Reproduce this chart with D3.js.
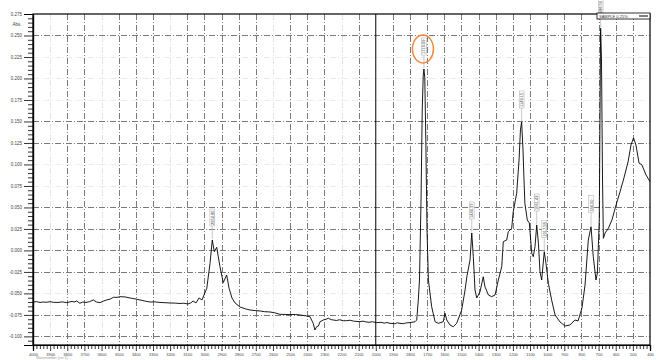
<!DOCTYPE html>
<html>
<head>
<meta charset="utf-8">
<script src="https://cdn.jsdelivr.net/npm/d3@7"></script>
<style>
body { margin: 0; background: #fff; }
svg { display: block; font-family: "Liberation Sans", Arial, sans-serif; }
</style>
</head>
<body>
<div id="ir-chart"></div>
<script>
// 光谱数据：波数 (cm-1) 与吸光度
var wavenumber = [4000, 3980, 3959, 3940, 3920, 3901, 3880, 3854, 3830, 3803, 3790, 3772, 3760, 3745, 3726, 3710, 3691, 3670, 3648, 3630,
    3609, 3590, 3570, 3550, 3531, 3510, 3492, 3463, 3434, 3405, 3376, 3345, 3317, 3290, 3259, 3230, 3201, 3170, 3142, 3120,
    3096, 3080, 3066, 3049, 3031, 3014, 3002, 2986, 2967, 2954, 2942, 2928, 2919, 2909, 2890, 2870, 2856, 2839, 2821, 2792,
    2760, 2734, 2700, 2675, 2650, 2617, 2590, 2559, 2500, 2470, 2442, 2410, 2384, 2365, 2355, 2345, 2335, 2325, 2306, 2290,
    2277, 2260, 2248, 2230, 2210, 2190, 2170, 2150, 2130, 2110, 2092, 2075, 2060, 2040, 2020, 1995, 1970, 1950, 1935, 1917,
    1890, 1875, 1859, 1840, 1820, 1800, 1771, 1761, 1752, 1745, 1736, 1729, 1723, 1719, 1714, 1708, 1701, 1693, 1674, 1654,
    1635, 1606, 1596, 1586, 1567, 1548, 1528, 1499, 1479, 1469, 1450, 1440, 1431, 1421, 1411, 1392, 1373, 1363, 1343, 1324,
    1304, 1285, 1265, 1256, 1236, 1227, 1207, 1198, 1178, 1164, 1156, 1149, 1141, 1135, 1130, 1116, 1104, 1090, 1081, 1071,
    1061, 1051, 1042, 1032, 1017, 1007, 993, 974, 954, 925, 896, 867, 838, 820, 797, 779, 760, 744, 731, 715,
    707, 696, 692, 688, 683, 677, 672, 662, 643, 622, 598, 575, 552, 528, 511, 496, 482, 464, 447, 423,
    400];
var absorbance = [-0.0600, -0.0596, -0.0605, -0.0600, -0.0603, -0.0596, -0.0604, -0.0605, -0.0599, -0.0607, -0.0601, -0.0593, -0.0600, -0.0588, -0.0615, -0.0600, -0.0605, -0.0596, -0.0576, -0.0600,
    -0.0607, -0.0590, -0.0576, -0.0566, -0.0545, -0.0546, -0.0538, -0.0541, -0.0553, -0.0563, -0.0576, -0.0590, -0.0600, -0.0598, -0.0605, -0.0608, -0.0611, -0.0613, -0.0617, -0.0614,
    -0.0623, -0.0612, -0.0588, -0.0611, -0.0553, -0.0576, -0.0518, -0.0440, -0.0150, 0.0121, -0.0015, 0.0036, -0.0073, -0.0189, -0.0375, -0.0286, -0.0440, -0.0553, -0.0611, -0.0658,
    -0.0680, -0.0693, -0.0700, -0.0704, -0.0712, -0.0716, -0.0725, -0.0743, -0.0746, -0.0745, -0.0751, -0.0760, -0.0771, -0.0848, -0.0925, -0.0887, -0.0880, -0.0829, -0.0809, -0.0800,
    -0.0789, -0.0805, -0.0809, -0.0815, -0.0806, -0.0818, -0.0817, -0.0812, -0.0822, -0.0826, -0.0829, -0.0822, -0.0830, -0.0836, -0.0829, -0.0840, -0.0836, -0.0846, -0.0838, -0.0848,
    -0.0852, -0.0842, -0.0848, -0.0852, -0.0842, -0.0840, -0.0829, -0.0809, -0.0577, -0.0344, 0.0587, 0.1633, 0.2040, 0.2110, 0.2006, 0.1285, 0.0238, -0.0344, -0.0654, -0.0829,
    -0.0848, -0.0829, -0.0731, -0.0809, -0.0867, -0.0887, -0.0848, -0.0693, -0.0460, -0.0309, -0.0111, 0.0203, -0.0073, -0.0460, -0.0553, -0.0483, -0.0306, -0.0422, -0.0518, -0.0538,
    -0.0518, -0.0344, -0.0189, 0.0102, 0.0121, 0.0218, 0.0257, 0.0450, 0.0665, 0.1052, 0.1401, 0.1494, 0.1168, 0.0819, 0.0548, 0.0354, 0.0319, -0.0033, -0.0073, 0.0043,
    0.0296, 0.0083, -0.0247, -0.0344, -0.0015, -0.0150, -0.0383, -0.0576, -0.0751, -0.0832, -0.0879, -0.0867, -0.0809, -0.0821, -0.0670, -0.0402, 0.0121, 0.0276, -0.0073, -0.0344,
    -0.0262, 0.0354, 0.1517, 0.2584, 0.2215, 0.0819, 0.0141, 0.0203, 0.0257, 0.0354, 0.0529, 0.0680, 0.0843, 0.1029, 0.1226, 0.1308, 0.1226, 0.1017, 0.0994, 0.0877,
    0.0800];

// 峰标注
var peakWn = [2954, 1719, 1440, 1149, 1061, 1017, 744, 688];
var peakText = ["2954.80", "1719.09", "1440.33", "1149.15", "1061.42", "1017.58", "744.50", "688.50"];
var circledPeak = 1719;

// 坐标轴刻度
var yTickValues = [-0.100, -0.075, -0.050, -0.025, 0.000, 0.025, 0.050, 0.075, 0.100, 0.125, 0.150, 0.175, 0.200, 0.225, 0.250, 0.275];
var xTickValues = [4000, 3900, 3800, 3700, 3600, 3500, 3400, 3300, 3200, 3100, 3000, 2900, 2800, 2700, 2600, 2500, 2400, 2300, 2200,
    2100, 2000, 1900, 1800, 1700, 1600, 1500, 1400, 1300, 1200, 1100, 1000, 900, 800, 700, 600, 500, 400];
// 深色网格线（其余为浅色）
var yGridDark = [0.250, 0.150, 0.125, 0.050, 0.025, 0.000, -0.025, -0.075, -0.100];
var xGridLight = [3900, 3600, 3200, 2600, 2200];
var legendLabel = "SAMPLE 0.25%";
var yLabel = "Abs.";
var xLabel = "Wavenumber [cm-1]";

var W = 656, H = 360;
var svg = d3.select("#ir-chart").append("svg")
    .attr("width", W)
    .attr("height", H);

var x = d3.scaleLinear().domain([4000, 400]).range([33, 650]);
var y = d3.scaleLinear().domain([-0.11, 0.275]).range([345, 14]);

// 网格线
var grid = svg.append("g");
grid.selectAll(".vgrid")
    .data(xTickValues.filter(function (d) { return d !== 4000 && d !== 400 && d !== 2000; }))
    .enter().append("line")
    .attr("x1", function (d) { return Math.round(x(d)) + 0.5; })
    .attr("x2", function (d) { return Math.round(x(d)) + 0.5; })
    .attr("y1", 14).attr("y2", 345)
    .attr("stroke", function (d) { return xGridLight.indexOf(d) >= 0 ? "#e4e4e4" : "#7a7a7a"; })
    .attr("stroke-width", 1)
    .attr("stroke-dasharray", "6,2,1,2");
grid.selectAll(".hgrid")
    .data(yTickValues.filter(function (d) { return d !== 0.275; }))
    .enter().append("line")
    .attr("x1", 33).attr("x2", 650)
    .attr("y1", function (d) { return Math.round(y(d)) + 0.5; })
    .attr("y2", function (d) { return Math.round(y(d)) + 0.5; })
    .attr("stroke", function (d) { return yGridDark.some(function (v) { return Math.abs(v - d) < 1e-6; }) ? "#7a7a7a" : "#ececec"; })
    .attr("stroke-width", 1)
    .attr("stroke-dasharray", "6,2,1,2");

// 2000 cm-1 处的分界线
svg.append("line")
    .attr("x1", x(2000)).attr("x2", x(2000))
    .attr("y1", 14).attr("y2", 345)
    .attr("stroke", "#000").attr("stroke-width", 1);

// 光谱曲线
var line = d3.line()
    .x(function (d) { return x(d[0]); })
    .y(function (d) { return y(d[1]); });
svg.append("path")
    .datum(d3.zip(wavenumber, absorbance))
    .attr("fill", "none")
    .attr("stroke", "#000")
    .attr("stroke-width", 0.9)
    .attr("stroke-linejoin", "round")
    .attr("d", line);

// 边框
svg.append("rect")
    .attr("x", 33).attr("y", 14)
    .attr("width", 617).attr("height", 331)
    .attr("fill", "none")
    .attr("stroke", "#000")
    .attr("stroke-width", 1.2);

// Y 轴
var yAxis = svg.append("g")
    .attr("transform", "translate(33,0)")
    .call(d3.axisLeft(y).tickValues(yTickValues).tickSize(9).tickPadding(2)
        .tickFormat(function (d) { return d.toFixed(3); }));
var yMinor = d3.range(-0.11, 0.2751, 0.005).filter(function (v) {
    return !yTickValues.some(function (t) { return Math.abs(t - v) < 1e-6; });
});
svg.append("g")
    .attr("transform", "translate(33,0)")
    .call(d3.axisLeft(y).tickValues(yMinor).tickSize(5).tickFormat(""));

// X 轴
var xAxis = svg.append("g")
    .attr("transform", "translate(0,345)")
    .call(d3.axisBottom(x).tickValues(xTickValues).tickSize(6).tickPadding(2)
        .tickFormat(function (d) { return d; }));
var xMinor = d3.range(400, 4001, 20).filter(function (v) { return v % 100 !== 0; });
svg.append("g")
    .attr("transform", "translate(0,345)")
    .call(d3.axisBottom(x).tickValues(xMinor).tickSize(4).tickFormat(""));

svg.selectAll(".domain").attr("stroke", "#000").attr("stroke-width", 1.2);
svg.selectAll(".tick line").attr("stroke", "#000").attr("stroke-width", 0.8);
yAxis.selectAll("text").style("font-size", "4.5px").attr("fill", "#444");
xAxis.selectAll("text").style("font-size", "4px").attr("fill", "#444");

svg.append("text")
    .attr("x", 17).attr("y", 25.5)
    .attr("text-anchor", "middle")
    .style("font-size", "4.5px")
    .attr("fill", "#444")
    .text(yLabel);
svg.append("text")
    .attr("x", 36).attr("y", 358.5)
    .style("font-size", "3.5px")
    .attr("fill", "#999")
    .text(xLabel);

// 峰标注（竖排文字）
var peaks = peakWn.map(function (wn, i) {
    var idx = wavenumber.indexOf(wn);
    return { wn: wn, a: absorbance[idx], label: peakText[i] };
});
var pk = svg.append("g").selectAll("g")
    .data(peaks)
    .enter().append("g")
    .attr("transform", function (d) {
        return "translate(" + x(d.wn) + "," + y(d.a) + ")";
    });
pk.append("line")
    .attr("x1", 0).attr("x2", 0)
    .attr("y1", -14).attr("y2", -1)
    .attr("stroke", "#bbb").attr("stroke-width", 0.8);
pk.append("rect")
    .attr("x", -2.4).attr("y", -31)
    .attr("width", 4.8).attr("height", 17)
    .attr("fill", "#fff")
    .attr("stroke", "#aaa")
    .attr("stroke-width", 0.5);
pk.append("text")
    .attr("transform", "translate(1.5,-15) rotate(-90)")
    .attr("text-anchor", "start")
    .style("font-size", "4px")
    .attr("fill", "#333")
    .text(function (d) { return d.label; });

// 橙色圈
var cp = peaks.filter(function (d) { return d.wn === circledPeak; })[0];
svg.append("ellipse")
    .attr("cx", x(cp.wn) - 1)
    .attr("cy", y(cp.a) - 20)
    .attr("rx", 10.5).attr("ry", 14)
    .attr("fill", "none")
    .attr("stroke", "#f0883a")
    .attr("stroke-width", 1.5);

// 图例
var legend = svg.append("g").attr("transform", "translate(597,13)");
legend.append("rect")
    .attr("width", 53).attr("height", 6)
    .attr("fill", "#fff")
    .attr("stroke", "#000")
    .attr("stroke-width", 0.8);
legend.append("text")
    .attr("x", 2).attr("y", 4.7)
    .style("font-size", "4px")
    .attr("fill", "#333")
    .text(legendLabel);
legend.append("line")
    .attr("x1", 42).attr("x2", 51)
    .attr("y1", 3).attr("y2", 3)
    .attr("stroke", "#000").attr("stroke-width", 1);
</script>
</body>
</html>
